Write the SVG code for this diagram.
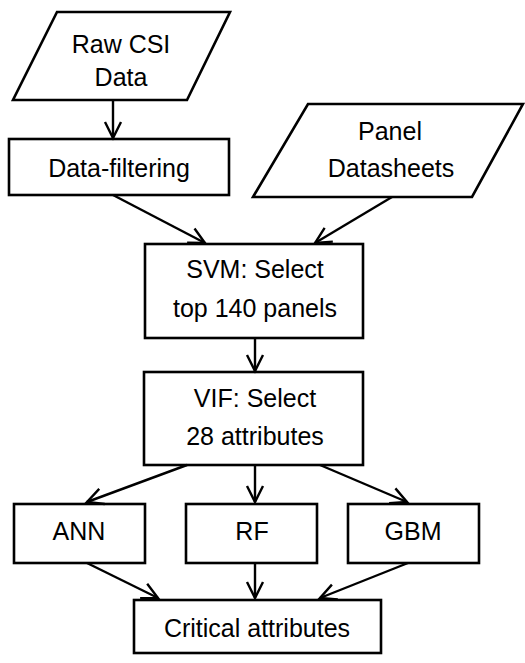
<svg xmlns="http://www.w3.org/2000/svg" width="525" height="663" viewBox="0 0 525 663">
<style>
.shape{fill:#fff;stroke:#000;stroke-width:2.6}
.lbl{font-family:"Liberation Sans",Arial,sans-serif;font-size:25px;fill:#000;text-anchor:middle}
.con line{stroke:#000;stroke-width:2.4;marker-end:url(#arr)}
</style>
<defs>
<marker id="arr" markerUnits="userSpaceOnUse" markerWidth="24" markerHeight="24" viewBox="-20 -12 24 24" refX="0" refY="0" orient="auto">
<path d="M-16,-8 L0,0 L-16,8" fill="none" stroke="#000" stroke-width="2.4"/>
</marker>
</defs>
<rect width="525" height="663" fill="#fff"/>
<g id="raw-csi">
<polygon class="shape" points="57,12 230,12 187,100 13,100"/>
<text class="lbl" x="121" y="53">Raw CSI</text>
<text class="lbl" x="121" y="86">Data</text>
</g>
<g id="data-filtering">
<rect class="shape" x="9" y="139" width="220" height="56"/>
<text class="lbl" x="119" y="177">Data-filtering</text>
</g>
<g id="panel-datasheets">
<polygon class="shape" points="308,104 523,104 472,197 253,197"/>
<text class="lbl" x="390" y="140">Panel</text>
<text class="lbl" x="391" y="177">Datasheets</text>
</g>
<g id="svm">
<rect class="shape" x="145" y="244" width="218" height="94"/>
<text class="lbl" x="255" y="278">SVM: Select</text>
<text class="lbl" x="255" y="317">top 140 panels</text>
</g>
<g id="vif">
<rect class="shape" x="144" y="372" width="219" height="93"/>
<text class="lbl" x="255" y="407">VIF: Select</text>
<text class="lbl" x="255" y="445">28 attributes</text>
</g>
<g id="ann">
<rect class="shape" x="14" y="504" width="131" height="59"/>
<text class="lbl" x="79" y="540">ANN</text>
</g>
<g id="rf">
<rect class="shape" x="186" y="504" width="131" height="59"/>
<text class="lbl" x="252" y="540">RF</text>
</g>
<g id="gbm">
<rect class="shape" x="348" y="504" width="131" height="59"/>
<text class="lbl" x="413" y="540">GBM</text>
</g>
<g id="critical">
<rect class="shape" x="134" y="600" width="247" height="53"/>
<text class="lbl" x="257" y="637">Critical attributes</text>
</g>
<g id="connectors" class="con">
<line x1="113" y1="100" x2="113" y2="138"/>
<line x1="113" y1="195" x2="205" y2="243"/>
<line x1="392" y1="197" x2="315" y2="243"/>
<line x1="255" y1="338" x2="255" y2="371"/>
<line x1="187" y1="465" x2="87" y2="502"/>
<line x1="255" y1="465" x2="255" y2="502"/>
<line x1="320" y1="465" x2="407" y2="502"/>
<line x1="87" y1="563" x2="158" y2="598"/>
<line x1="255" y1="563" x2="255" y2="598"/>
<line x1="408" y1="563" x2="320" y2="598"/>
</g>
</svg>
